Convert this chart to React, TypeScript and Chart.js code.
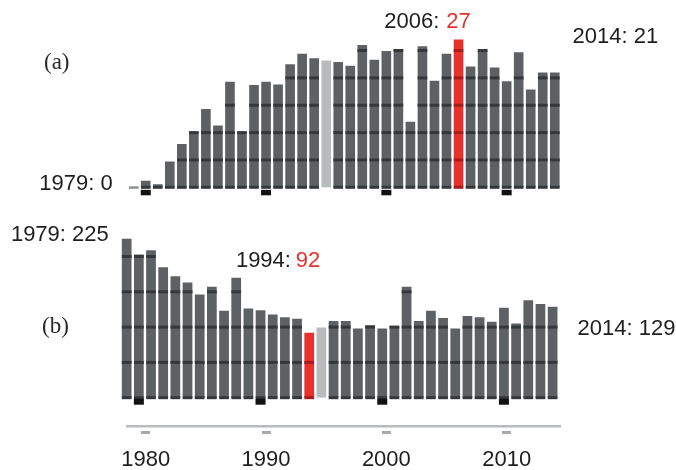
import React, { useEffect, useRef } from 'react';
import { Chart, registerables } from 'chart.js';

Chart.register(...registerables);

// ---- data ----
const YEARS = [
  1979, 1980, 1981, 1982, 1983, 1984, 1985, 1986, 1987, 1988, 1989, 1990,
  1991, 1992, 1993, 1994, 1995, 1996, 1997, 1998, 1999, 2000, 2001, 2002,
  2003, 2004, 2005, 2006, 2007, 2008, 2009, 2010, 2011, 2012, 2013, 2014,
];
const SERIES_A = [
  0, 1.2, 0.55, 4.7, 7.9, 10.1, 14.3, 11.3, 19.3, 10.1, 18.7, 19.3,
  18.8, 22.5, 24.4, 23.6, 23.2, 22.9, 22.2, 26.0, 23.3, 24.9, 25.3, 12.0,
  25.8, 19.5, 24.4, 27, 22.1, 25.2, 21.9, 19.4, 24.7, 17.9, 21.0, 21,
];
const SERIES_B = [
  225, 203, 209, 184.6, 172, 163, 146, 157, 123, 170, 126.5, 124,
  118, 114, 112, 92, 99.6, 108.6, 108.6, 98, 102.5, 98, 101.5, 157,
  108.6, 123, 113, 98, 115.7, 113.8, 107.6, 127.5, 105, 138, 132.7, 129,
];
const GRID_A = [0, 5, 10, 15, 20, 25];
const GRID_B = [0, 50, 100, 150, 200];
const TICK_LABELS = ['1980', '1990', '2000', '2010'];
const RED_YEAR_A = 2006;
const RED_YEAR_B = 1994;
const LIGHT_YEAR = 1995;

// ---- styles ----
const GRAY = '#5e6163';
const LIGHT = '#b9bbbd';
const RED = '#e8302c';
const LINE_GRAY = '#35383a';
const LINE_RED = '#a81c1c';
const SANS = '"Liberation Sans", Arial, sans-serif';
const SERIF = '"Liberation Serif", "Times New Roman", serif';

const W = 676;
const H = 470;
// panel a geometry
const A_LEFT = 127.7;
const A_RIGHT = 560.8;
const A_TOP = 23.2;
const A_BASE = 187.3;
const A_BOTTOM = 426;
const A_MAX = 30;
const A_PPU = (A_BASE - A_TOP) / A_MAX;
const A_MIN = -(A_BOTTOM - A_BASE) / A_PPU;
// panel b geometry (own canvas)
const B_CANVAS_TOP = 200;
const B_CANVAS_H = 220;
const B_LEFT = 120.6;
const B_RIGHT = 558.7;
const B_TOP = 21.2;
const B_BASE = 197.7;
const B_MAX = 250;

function colorsFor(redYear: number) {
  return YEARS.map((y) => (y === redYear ? RED : y === LIGHT_YEAR ? LIGHT : GRAY));
}

function barLinesPlugin(values: number[], grid: number[], redYear: number, tickTop: number, tickBottom: number) {
  return {
    id: 'barLines',
    afterDatasetsDraw(chart: any) {
      const ctx = chart.ctx;
      const meta = chart.getDatasetMeta(0);
      const yScale = chart.scales.y;
      const base = yScale.getPixelForValue(0);
      ctx.save();
      meta.data.forEach((bar: any, i: number) => {
        const year = YEARS[i];
        if (year === LIGHT_YEAR) return;
        const v = values[i];
        const { x, width } = bar.getProps(['x', 'width'], true);
        if (v === 0) {
          ctx.fillStyle = '#8c8f92';
          ctx.fillRect(x - width / 2, base - 1, width, 2.5);
          return;
        }
        ctx.fillStyle = year === redYear ? LINE_RED : LINE_GRAY;
        grid.forEach((g) => {
          if (g <= v) {
            const py = yScale.getPixelForValue(g);
            ctx.fillRect(x - width / 2, py - 1.5, width, 3);
          }
        });
      });
      // decade marks under the bars
      const xScale = chart.scales.x;
      ctx.fillStyle = '#111111';
      TICK_LABELS.forEach((lab) => {
        const idx = YEARS.indexOf(Number(lab));
        const px = xScale.getPixelForValue(idx);
        ctx.fillRect(px - 5, base + tickTop, 10, tickBottom - tickTop);
      });
      ctx.restore();
    },
  };
}

const annotationPlugin = {
  id: 'annotations',
  afterDraw(chart: any) {
    const ctx = chart.ctx;
    ctx.save();
    ctx.textAlign = 'left';
    ctx.textBaseline = 'middle';
    ctx.font = `23px ${SERIF}`;
    ctx.fillStyle = '#2a2a2a';
    ctx.fillText('(a)', 44, 63);
    ctx.fillText('(b)', 42, 327);
    ctx.font = `22px ${SANS}`;
    const dark = '#1e1e1e';
    const put = (t: string, x: number, y: number, c: string) => {
      ctx.fillStyle = c;
      ctx.fillText(t, x, y);
    };
    put('2006:', 384.3, 22, dark);
    put('27', 446.3, 22, RED);
    put('2014: 21', 572.6, 36.6, dark);
    put('1979: 0', 39.3, 184.1, dark);
    put('1979: 225', 10.9, 234.6, dark);
    put('1994:', 235.9, 260.6, dark);
    put('92', 295.8, 260.6, RED);
    put('2014: 129', 577.6, 329.1, dark);
    ctx.restore();
  },
};

export default function App() {
  const refA = useRef<HTMLCanvasElement>(null);
  const refB = useRef<HTMLCanvasElement>(null);

  useEffect(() => {
    const labels = YEARS.map(String);
    const chartA = new Chart(refA.current as HTMLCanvasElement, {
      type: 'bar',
      data: {
        labels,
        datasets: [
          {
            data: SERIES_A,
            backgroundColor: colorsFor(RED_YEAR_A),
            borderWidth: 0,
            barPercentage: 0.8,
            categoryPercentage: 1,
          },
        ],
      },
      options: {
        responsive: false,
        animation: false,
        events: [],
        layout: { padding: { left: A_LEFT, right: W - A_RIGHT, top: A_TOP, bottom: 0 } },
        plugins: { legend: { display: false }, tooltip: { enabled: false } },
        scales: {
          x: {
            type: 'category',
            offset: true,
            grid: {
              display: true,
              offset: false,
              drawOnChartArea: false,
              drawTicks: true,
              tickLength: 8,
              tickWidth: 9,
              tickColor: (c: any) =>
                TICK_LABELS.includes(String(YEARS[c.index])) ? '#a6aaae' : 'rgba(0,0,0,0)',
              tickBorderDash: [0, 3.5, 3.5, 40],
            },
            border: { display: true, color: '#b8bcc0', width: 2.5 },
            ticks: {
              autoSkip: false,
              maxRotation: 0,
              minRotation: 0,
              padding: 12.4,
              color: '#1e1e1e',
              font: { family: SANS, size: 22 },
              callback: (_v: any, i: number) =>
                TICK_LABELS.includes(String(YEARS[i])) ? String(YEARS[i]) : '',
            },
            afterFit: (s: any) => {
              s.height = H - A_BOTTOM;
            },
          } as any,
          y: { display: false, min: A_MIN, max: A_MAX },
        },
      },
      plugins: [barLinesPlugin(SERIES_A, GRID_A, RED_YEAR_A, 2.5, 8), annotationPlugin],
    });

    const chartB = new Chart(refB.current as HTMLCanvasElement, {
      type: 'bar',
      data: {
        labels,
        datasets: [
          {
            data: SERIES_B,
            backgroundColor: colorsFor(RED_YEAR_B),
            borderWidth: 0,
            barPercentage: 0.8,
            categoryPercentage: 1,
          },
        ],
      },
      options: {
        responsive: false,
        animation: false,
        events: [],
        layout: {
          padding: { left: B_LEFT, right: W - B_RIGHT, top: B_TOP, bottom: B_CANVAS_H - B_BASE },
        },
        plugins: { legend: { display: false }, tooltip: { enabled: false } },
        scales: {
          x: { type: 'category', offset: true, display: false },
          y: { display: false, min: 0, max: B_MAX },
        },
      },
      plugins: [barLinesPlugin(SERIES_B, GRID_B, RED_YEAR_B, 1, 7)],
    });

    return () => {
      chartA.destroy();
      chartB.destroy();
    };
  }, []);

  return (
    <div style={{ position: 'fixed', left: 0, top: 0, width: W, height: H, background: '#ffffff' }}>
      <canvas ref={refA} width={W} height={H} style={{ position: 'absolute', left: 0, top: 0 }} />
      <canvas
        ref={refB}
        width={W}
        height={B_CANVAS_H}
        style={{ position: 'absolute', left: 0, top: B_CANVAS_TOP }}
      />
    </div>
  );
}
